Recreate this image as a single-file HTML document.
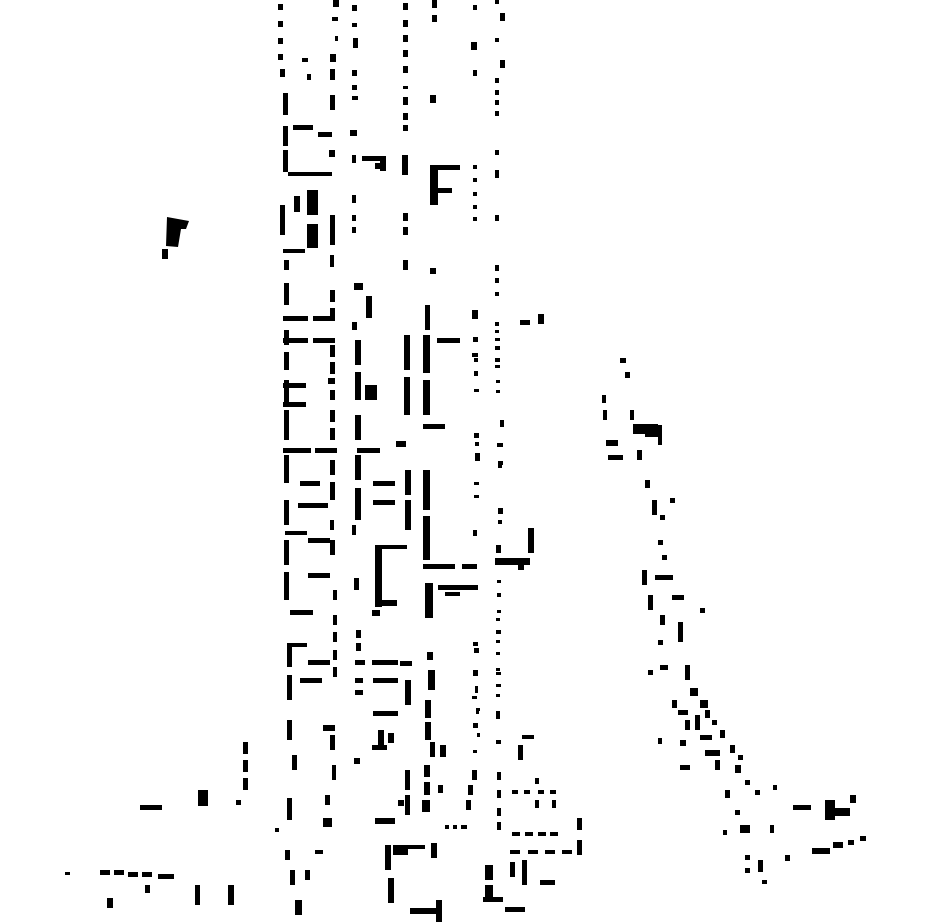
<!DOCTYPE html>
<html><head><meta charset="utf-8"><style>html,body{margin:0;padding:0;background:#fff}svg{display:block}</style></head>
<body>
<svg width="930" height="924" viewBox="0 0 930 924" xmlns="http://www.w3.org/2000/svg">
<g fill="#000">
<polygon points="167,217 189,221 186,229 181,229 178,247 166,246"/>
<rect x="162" y="249" width="6" height="10"/>
<rect x="278" y="4" width="5" height="6"/><rect x="278" y="21" width="5" height="6"/><rect x="278" y="38" width="5" height="6"/><rect x="278" y="54" width="5" height="6"/><rect x="280" y="69" width="5" height="8"/>
<rect x="302" y="58" width="6" height="4"/><rect x="307" y="74" width="4" height="6"/>
<rect x="283" y="93" width="5" height="22"/><rect x="283" y="126" width="5" height="20"/><rect x="283" y="150" width="5" height="22"/><rect x="280" y="205" width="5" height="30"/><rect x="284" y="260" width="5" height="10"/><rect x="284" y="283" width="5" height="22"/><rect x="284" y="330" width="5" height="15"/><rect x="284" y="352" width="5" height="18"/><rect x="284" y="380" width="5" height="22"/><rect x="284" y="410" width="5" height="30"/><rect x="284" y="455" width="5" height="28"/><rect x="284" y="500" width="5" height="25"/><rect x="284" y="540" width="5" height="25"/><rect x="284" y="572" width="5" height="28"/><rect x="287" y="645" width="5" height="22"/><rect x="287" y="675" width="5" height="25"/><rect x="287" y="720" width="5" height="20"/><rect x="292" y="755" width="5" height="15"/><rect x="287" y="798" width="5" height="22"/><rect x="285" y="850" width="5" height="10"/><rect x="290" y="870" width="5" height="15"/><rect x="295" y="900" width="7" height="15"/>
<rect x="293" y="125" width="20" height="5"/><rect x="318" y="132" width="14" height="5"/><rect x="288" y="172" width="44" height="4"/>
<rect x="283" y="249" width="22" height="4"/><rect x="283" y="316" width="25" height="5"/><rect x="313" y="316" width="22" height="5"/>
<rect x="283" y="338" width="25" height="5"/><rect x="313" y="338" width="22" height="5"/><rect x="283" y="383" width="23" height="5"/><rect x="283" y="402" width="23" height="5"/>
<rect x="283" y="448" width="28" height="5"/><rect x="315" y="448" width="22" height="5"/><rect x="300" y="481" width="20" height="5"/><rect x="298" y="503" width="30" height="5"/>
<rect x="285" y="531" width="22" height="4"/><rect x="308" y="538" width="22" height="5"/><rect x="308" y="573" width="22" height="5"/><rect x="290" y="610" width="23" height="5"/>
<rect x="287" y="643" width="20" height="4"/><rect x="308" y="660" width="22" height="5"/><rect x="300" y="678" width="22" height="5"/>
<rect x="307" y="190" width="11" height="25"/><rect x="307" y="224" width="11" height="24"/><rect x="294" y="196" width="6" height="16"/>
<!-- column 333 -->
<rect x="333" y="0" width="6" height="7"/><rect x="332" y="17" width="6" height="4"/><rect x="335" y="36" width="3" height="5"/><rect x="330" y="54" width="6" height="8"/><rect x="330" y="69" width="5" height="11"/><rect x="330" y="95" width="5" height="15"/><rect x="329" y="150" width="6" height="7"/><rect x="330" y="215" width="5" height="30"/><rect x="330" y="255" width="4" height="12"/><rect x="330" y="290" width="5" height="12"/><rect x="330" y="308" width="5" height="12"/><rect x="330" y="345" width="5" height="12"/><rect x="330" y="362" width="5" height="12"/><rect x="328" y="378" width="7" height="6"/><rect x="330" y="390" width="5" height="10"/><rect x="330" y="410" width="5" height="12"/><rect x="330" y="428" width="5" height="12"/><rect x="330" y="460" width="5" height="15"/><rect x="330" y="482" width="5" height="18"/><rect x="330" y="520" width="4" height="10"/><rect x="330" y="540" width="5" height="15"/><rect x="333" y="590" width="4" height="10"/><rect x="333" y="615" width="4" height="10"/><rect x="333" y="632" width="4" height="10"/><rect x="333" y="650" width="4" height="10"/><rect x="333" y="667" width="4" height="10"/><rect x="323" y="725" width="12" height="6"/><rect x="330" y="735" width="5" height="15"/><rect x="332" y="765" width="4" height="15"/><rect x="325" y="795" width="5" height="10"/><rect x="323" y="818" width="9" height="9"/><rect x="315" y="850" width="8" height="4"/><rect x="305" y="870" width="5" height="10"/>
<!-- column 355 -->
<rect x="352" y="5" width="5" height="6"/><rect x="352" y="23" width="5" height="4"/><rect x="353" y="38" width="5" height="10"/><rect x="352" y="70" width="5" height="6"/><rect x="352" y="85" width="5" height="5"/><rect x="352" y="96" width="6" height="4"/><rect x="350" y="130" width="7" height="6"/><rect x="352" y="155" width="4" height="8"/><rect x="352" y="195" width="4" height="8"/><rect x="352" y="215" width="4" height="6"/><rect x="352" y="227" width="4" height="6"/><rect x="354" y="283" width="9" height="7"/><rect x="366" y="296" width="6" height="22"/><rect x="352" y="322" width="5" height="8"/><rect x="355" y="340" width="6" height="25"/><rect x="355" y="372" width="6" height="28"/><rect x="365" y="385" width="12" height="15"/><rect x="355" y="415" width="6" height="25"/><rect x="355" y="455" width="6" height="25"/><rect x="355" y="488" width="6" height="32"/><rect x="352" y="525" width="4" height="10"/><rect x="354" y="578" width="5" height="12"/><rect x="356" y="630" width="5" height="8"/><rect x="356" y="643" width="5" height="8"/><rect x="355" y="660" width="10" height="5"/><rect x="355" y="678" width="8" height="5"/><rect x="355" y="690" width="8" height="5"/><rect x="354" y="758" width="6" height="6"/>
<rect x="362" y="156" width="24" height="5"/><rect x="380" y="156" width="6" height="15"/><rect x="375" y="163" width="6" height="6"/>
<rect x="357" y="448" width="23" height="5"/><rect x="396" y="441" width="10" height="6"/><rect x="373" y="481" width="22" height="5"/><rect x="373" y="500" width="22" height="5"/>
<rect x="375" y="545" width="7" height="62"/><rect x="375" y="545" width="32" height="4"/><rect x="375" y="600" width="22" height="6"/><rect x="372" y="610" width="8" height="6"/>
<rect x="372" y="660" width="26" height="5"/><rect x="400" y="661" width="12" height="5"/><rect x="373" y="678" width="25" height="5"/><rect x="405" y="680" width="6" height="25"/><rect x="373" y="711" width="25" height="5"/>
<rect x="378" y="730" width="6" height="20"/><rect x="388" y="733" width="6" height="10"/><rect x="372" y="745" width="15" height="5"/>
<!-- column 405 -->
<rect x="403" y="3" width="5" height="7"/><rect x="403" y="20" width="5" height="7"/><rect x="403" y="35" width="5" height="7"/><rect x="403" y="50" width="5" height="7"/><rect x="403" y="66" width="5" height="7"/><rect x="403" y="86" width="5" height="3"/><rect x="403" y="97" width="5" height="8"/><rect x="403" y="113" width="5" height="7"/><rect x="403" y="125" width="5" height="6"/><rect x="402" y="155" width="6" height="20"/><rect x="403" y="213" width="5" height="8"/><rect x="403" y="227" width="5" height="8"/><rect x="403" y="260" width="5" height="10"/><rect x="404" y="335" width="6" height="35"/><rect x="404" y="377" width="6" height="38"/><rect x="405" y="470" width="6" height="25"/><rect x="405" y="500" width="6" height="30"/><rect x="405" y="770" width="5" height="20"/><rect x="405" y="795" width="5" height="20"/><rect x="398" y="800" width="6" height="6"/>
<!-- column 430 -->
<rect x="432" y="0" width="5" height="8"/><rect x="432" y="15" width="5" height="7"/><rect x="430" y="95" width="6" height="8"/><rect x="430" y="165" width="8" height="40"/><rect x="430" y="165" width="30" height="5"/><rect x="437" y="188" width="15" height="5"/><rect x="430" y="268" width="6" height="6"/>
<rect x="425" y="305" width="5" height="25"/><rect x="423" y="335" width="7" height="38"/><rect x="423" y="380" width="7" height="35"/><rect x="423" y="424" width="22" height="5"/><rect x="437" y="338" width="23" height="5"/>
<rect x="423" y="470" width="7" height="40"/><rect x="423" y="516" width="7" height="44"/><rect x="423" y="564" width="32" height="5"/><rect x="462" y="564" width="15" height="5"/><rect x="425" y="583" width="8" height="35"/><rect x="438" y="585" width="40" height="5"/><rect x="445" y="592" width="15" height="4"/>
<rect x="427" y="652" width="6" height="8"/><rect x="428" y="670" width="7" height="20"/><rect x="425" y="700" width="6" height="18"/><rect x="425" y="722" width="6" height="18"/><rect x="430" y="742" width="5" height="15"/><rect x="440" y="745" width="6" height="12"/><rect x="424" y="765" width="6" height="12"/><rect x="424" y="782" width="6" height="13"/><rect x="422" y="800" width="8" height="12"/><rect x="438" y="785" width="5" height="8"/><rect x="445" y="825" width="4" height="4"/><rect x="453" y="825" width="4" height="4"/><rect x="461" y="825" width="6" height="4"/>
</g>
<!-- dotted columns -->
<g fill="#000">
<rect x="473" y="5" width="4" height="5"/><rect x="471" y="42" width="6" height="8"/><rect x="473" y="70" width="4" height="6"/>
<rect x="473" y="165" width="4" height="4"/><rect x="473" y="178" width="4" height="4"/><rect x="473" y="192" width="4" height="4"/><rect x="473" y="205" width="4" height="4"/><rect x="473" y="217" width="4" height="4"/>
<rect x="472" y="310" width="6" height="9"/><rect x="473" y="337" width="5" height="5"/><rect x="472" y="353" width="6" height="4"/><rect x="474" y="358" width="4" height="4"/><rect x="474" y="371" width="4" height="5"/><rect x="474" y="389" width="5" height="3"/>
<rect x="474" y="433" width="5" height="5"/><rect x="475" y="442" width="4" height="4"/><rect x="475" y="453" width="5" height="8"/><rect x="474" y="482" width="5" height="3"/><rect x="474" y="495" width="5" height="3"/>
<rect x="473" y="530" width="4" height="6"/>
<rect x="473" y="642" width="5" height="4"/><rect x="474" y="648" width="5" height="5"/><rect x="473" y="670" width="5" height="6"/><rect x="475" y="686" width="3" height="7"/><rect x="472" y="696" width="5" height="3"/><rect x="476" y="708" width="4" height="3"/><rect x="476" y="711" width="3" height="3"/><rect x="473" y="723" width="5" height="5"/><rect x="477" y="733" width="3" height="4"/><rect x="473" y="750" width="4" height="3"/><rect x="472" y="770" width="5" height="10"/><rect x="468" y="785" width="5" height="10"/><rect x="466" y="800" width="5" height="10"/>
<rect x="495" y="0" width="4" height="4"/><rect x="500" y="13" width="5" height="8"/><rect x="495" y="38" width="4" height="4"/><rect x="500" y="60" width="5" height="8"/>
<rect x="495" y="78" width="4" height="5"/><rect x="495" y="90" width="4" height="5"/><rect x="495" y="100" width="4" height="5"/><rect x="495" y="111" width="4" height="5"/>
<rect x="495" y="150" width="4" height="5"/><rect x="495" y="170" width="4" height="8"/><rect x="495" y="215" width="4" height="6"/><rect x="495" y="265" width="4" height="6"/><rect x="495" y="278" width="4" height="5"/><rect x="495" y="292" width="4" height="4"/>
<rect x="495" y="322" width="4" height="4"/><rect x="495" y="330" width="4" height="3"/><rect x="495" y="338" width="5" height="3"/><rect x="495" y="346" width="5" height="4"/><rect x="495" y="358" width="5" height="4"/><rect x="495" y="365" width="5" height="3"/><rect x="496" y="380" width="4" height="3"/><rect x="496" y="390" width="4" height="3"/>
<rect x="500" y="420" width="4" height="7"/><rect x="497" y="443" width="6" height="4"/><rect x="498" y="461" width="5" height="4"/><rect x="498" y="465" width="4" height="3"/><rect x="498" y="508" width="5" height="6"/><rect x="498" y="520" width="4" height="4"/>
<rect x="496" y="545" width="5" height="8"/><rect x="495" y="558" width="35" height="7"/><rect x="528" y="528" width="6" height="25"/><rect x="518" y="562" width="6" height="8"/>
<rect x="497" y="580" width="4" height="3"/><rect x="497" y="593" width="4" height="4"/><rect x="497" y="610" width="4" height="3"/><rect x="496" y="618" width="4" height="3"/><rect x="496" y="630" width="5" height="4"/><rect x="496" y="640" width="4" height="3"/><rect x="496" y="652" width="4" height="3"/><rect x="496" y="668" width="4" height="3"/><rect x="496" y="672" width="5" height="3"/><rect x="496" y="684" width="5" height="3"/><rect x="496" y="694" width="4" height="3"/><rect x="496" y="711" width="4" height="8"/><rect x="496" y="740" width="5" height="4"/>
<rect x="520" y="320" width="10" height="5"/><rect x="538" y="314" width="6" height="10"/>
<!-- bottom center -->
<rect x="522" y="735" width="12" height="4"/><rect x="518" y="745" width="5" height="15"/><rect x="497" y="772" width="4" height="8"/><rect x="497" y="790" width="4" height="8"/><rect x="497" y="808" width="4" height="8"/><rect x="497" y="822" width="4" height="8"/>
<rect x="512" y="790" width="6" height="4"/><rect x="524" y="790" width="6" height="4"/><rect x="538" y="790" width="6" height="4"/><rect x="550" y="790" width="6" height="4"/><rect x="535" y="778" width="4" height="6"/><rect x="535" y="800" width="4" height="8"/><rect x="552" y="800" width="4" height="8"/>
<rect x="512" y="832" width="8" height="4"/><rect x="525" y="832" width="8" height="4"/><rect x="538" y="832" width="8" height="4"/><rect x="550" y="832" width="8" height="4"/><rect x="577" y="818" width="5" height="12"/><rect x="577" y="840" width="5" height="15"/>
<rect x="510" y="850" width="10" height="4"/><rect x="528" y="850" width="10" height="4"/><rect x="545" y="850" width="10" height="4"/><rect x="562" y="850" width="10" height="4"/>
<rect x="385" y="845" width="6" height="25"/><rect x="388" y="878" width="6" height="25"/><rect x="393" y="845" width="15" height="10"/><rect x="408" y="845" width="17" height="4"/><rect x="431" y="843" width="6" height="15"/><rect x="410" y="908" width="28" height="6"/><rect x="436" y="900" width="6" height="22"/><rect x="375" y="818" width="20" height="6"/>
<rect x="485" y="865" width="8" height="15"/><rect x="485" y="885" width="8" height="15"/><rect x="483" y="897" width="20" height="5"/><rect x="510" y="862" width="5" height="15"/><rect x="522" y="860" width="5" height="25"/><rect x="505" y="907" width="20" height="5"/><rect x="540" y="880" width="15" height="5"/>
<!-- far left bottom -->
<rect x="243" y="742" width="5" height="12"/><rect x="243" y="760" width="5" height="12"/><rect x="243" y="778" width="5" height="12"/><rect x="236" y="800" width="5" height="5"/><rect x="198" y="790" width="10" height="16"/><rect x="140" y="805" width="22" height="5"/><rect x="275" y="828" width="4" height="4"/>
<rect x="100" y="870" width="10" height="5"/><rect x="114" y="870" width="10" height="5"/><rect x="128" y="872" width="10" height="5"/><rect x="142" y="872" width="10" height="5"/><rect x="158" y="874" width="16" height="5"/><rect x="65" y="872" width="5" height="3"/><rect x="145" y="885" width="5" height="8"/><rect x="107" y="898" width="6" height="10"/><rect x="195" y="885" width="5" height="20"/><rect x="228" y="885" width="6" height="20"/>
<!-- right diagonal cluster -->
<rect x="620" y="358" width="6" height="5"/><rect x="625" y="372" width="5" height="6"/><rect x="602" y="395" width="4" height="8"/><rect x="603" y="410" width="4" height="10"/><rect x="606" y="440" width="12" height="6"/><rect x="608" y="455" width="15" height="5"/><rect x="630" y="410" width="4" height="10"/>
<rect x="633" y="424" width="25" height="10"/><rect x="645" y="432" width="15" height="5"/><rect x="658" y="425" width="4" height="20"/><rect x="637" y="450" width="5" height="10"/>
<rect x="645" y="480" width="5" height="8"/><rect x="652" y="500" width="5" height="15"/><rect x="660" y="515" width="5" height="5"/><rect x="670" y="498" width="5" height="5"/>
<rect x="658" y="540" width="5" height="5"/><rect x="662" y="555" width="5" height="5"/><rect x="642" y="570" width="5" height="15"/><rect x="655" y="575" width="18" height="5"/><rect x="648" y="595" width="5" height="15"/><rect x="672" y="595" width="12" height="5"/><rect x="660" y="615" width="5" height="10"/><rect x="678" y="622" width="5" height="20"/><rect x="700" y="608" width="5" height="5"/>
<rect x="658" y="640" width="5" height="5"/><rect x="648" y="670" width="5" height="5"/><rect x="660" y="665" width="8" height="5"/><rect x="685" y="665" width="5" height="15"/><rect x="690" y="688" width="8" height="8"/>
<rect x="672" y="700" width="5" height="8"/><rect x="678" y="710" width="10" height="5"/><rect x="685" y="720" width="5" height="10"/><rect x="695" y="715" width="5" height="15"/><rect x="700" y="700" width="8" height="8"/><rect x="705" y="710" width="5" height="8"/><rect x="712" y="720" width="5" height="5"/><rect x="700" y="735" width="12" height="5"/><rect x="705" y="750" width="15" height="6"/><rect x="715" y="760" width="5" height="10"/><rect x="720" y="730" width="5" height="8"/><rect x="730" y="745" width="5" height="8"/><rect x="738" y="755" width="5" height="5"/><rect x="735" y="765" width="6" height="8"/><rect x="745" y="780" width="5" height="5"/><rect x="755" y="790" width="5" height="5"/><rect x="773" y="785" width="4" height="5"/>
<rect x="658" y="738" width="4" height="6"/><rect x="680" y="765" width="10" height="5"/><rect x="680" y="740" width="6" height="6"/>
<rect x="725" y="790" width="5" height="8"/><rect x="735" y="810" width="5" height="5"/><rect x="740" y="825" width="10" height="8"/><rect x="723" y="830" width="4" height="5"/><rect x="770" y="825" width="4" height="8"/><rect x="745" y="855" width="5" height="5"/><rect x="758" y="860" width="5" height="12"/><rect x="745" y="868" width="5" height="5"/><rect x="762" y="880" width="5" height="4"/><rect x="785" y="855" width="5" height="6"/>
<rect x="793" y="805" width="18" height="5"/><rect x="825" y="800" width="10" height="20"/><rect x="830" y="808" width="20" height="8"/><rect x="850" y="795" width="6" height="8"/><rect x="812" y="848" width="18" height="6"/><rect x="833" y="842" width="10" height="6"/><rect x="848" y="840" width="6" height="5"/><rect x="860" y="836" width="6" height="5"/>
</g>
</svg>
</body></html>
